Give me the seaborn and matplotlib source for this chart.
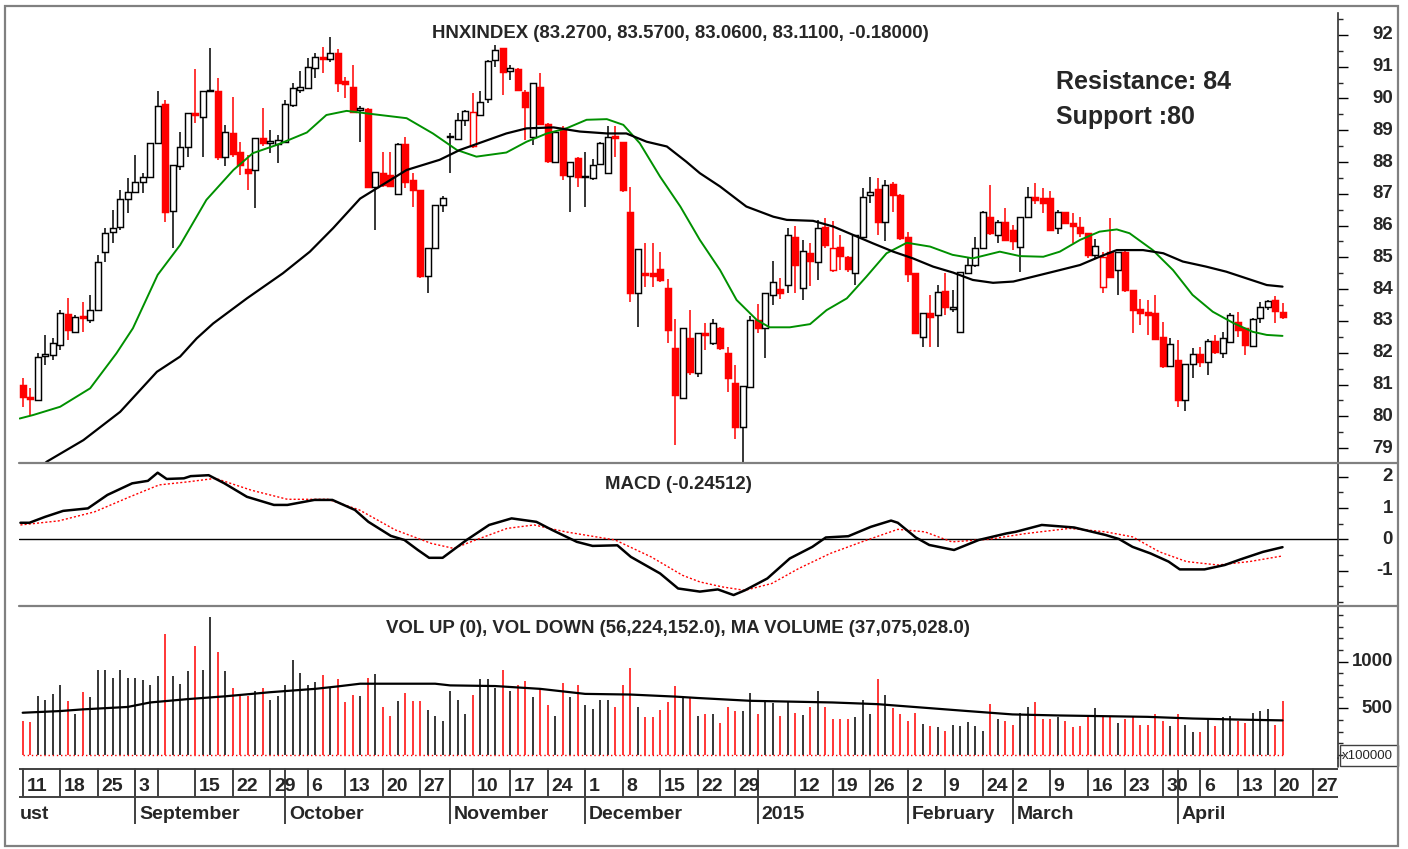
import numpy as np
import matplotlib
matplotlib.use("Agg")
import matplotlib.pyplot as plt
import seaborn as sns
from matplotlib.ticker import FixedLocator, MultipleLocator, NullFormatter
from matplotlib.transforms import blended_transform_factory
from matplotlib.patches import Rectangle
from matplotlib.lines import Line2D

# HNX index daily candles, 8 Aug 2014 .. 20 Apr 2015
opens = [80.98, 80.61, 80.51, 81.90, 81.93, 82.24, 83.22, 82.66, 83.15, 83.03,
         83.34, 85.18, 85.81, 85.97, 86.83, 87.07, 87.38, 87.54, 88.59, 89.83,
         86.47, 87.88, 88.46, 89.53, 89.43, 90.22, 90.25, 88.15, 88.90, 88.33,
         87.77, 87.75, 88.75, 88.59, 88.57, 88.64, 89.80, 90.27, 90.32, 90.95,
         91.30, 91.24, 91.42, 90.55, 90.35, 89.64, 89.66, 87.23, 87.67, 87.60,
         86.99, 88.57, 87.44, 87.12, 84.41, 85.28, 86.65, 88.78, 88.72, 89.33,
         88.49, 89.48, 89.98, 91.21, 91.58, 90.85, 90.92, 90.19, 88.80, 90.35,
         89.20, 88.01, 89.06, 87.56, 88.12, 87.54, 87.49, 87.94, 87.64, 88.82,
         88.64, 86.44, 83.87, 84.52, 84.50, 84.62, 84.03, 82.14, 80.56, 82.45,
         81.35, 82.61, 82.30, 82.79, 81.98, 81.06, 79.65, 80.93, 83.03, 82.77,
         83.82, 84.00, 84.13, 85.65, 84.03, 85.15, 84.87, 85.95, 84.60, 85.32,
         85.02, 84.50, 85.65, 86.96, 87.14, 86.12, 87.31, 86.96, 85.63, 84.50,
         82.50, 83.24, 83.19, 83.95, 83.38, 82.66, 84.52, 84.76, 85.28, 86.26,
         85.71, 86.12, 85.86, 85.34, 86.28, 86.91, 86.86, 86.86, 85.91, 86.44,
         86.09, 85.95, 85.78, 85.07, 84.08, 85.18, 84.60, 85.18, 83.97, 83.37,
         83.29, 83.24, 82.48, 81.58, 81.77, 80.51, 81.64, 81.96, 81.72, 82.38,
         82.00, 82.35, 82.98, 82.77, 82.21, 83.08, 83.43, 83.66, 83.27]
highs = [81.19, 80.88, 81.98, 82.56, 82.45, 83.34, 83.71, 83.19, 83.61, 83.82,
         85.08, 85.92, 86.49, 87.12, 87.49, 88.22, 87.65, 88.59, 90.22, 89.95,
         87.91, 88.96, 89.53, 90.92, 90.22, 91.58, 90.64, 89.17, 90.04, 88.64,
         88.22, 88.75, 89.69, 89.01, 88.85, 89.95, 90.48, 90.88, 91.27, 91.44,
         91.63, 91.95, 91.55, 90.69, 91.06, 89.75, 89.69, 87.70, 88.33, 88.33,
         88.59, 88.80, 87.65, 87.12, 85.28, 86.65, 86.93, 88.90, 89.53, 89.64,
         90.16, 90.22, 91.21, 91.69, 91.58, 91.06, 90.95, 90.27, 90.50, 90.79,
         89.24, 88.99, 89.12, 88.01, 88.17, 88.33, 88.09, 88.64, 89.14, 89.12,
         88.64, 87.23, 85.25, 85.44, 85.44, 85.18, 84.31, 83.05, 82.77, 83.34,
         82.61, 82.93, 83.05, 82.82, 82.19, 81.61, 80.95, 83.14, 83.53, 83.87,
         84.90, 84.34, 85.92, 85.99, 85.55, 85.46, 86.18, 86.23, 86.15, 85.71,
         85.04, 85.71, 87.17, 87.54, 87.49, 87.44, 87.38, 87.01, 85.81, 84.52,
         83.24, 83.82, 84.13, 84.50, 83.97, 84.55, 85.02, 85.65, 86.47, 87.28,
         86.18, 86.54, 86.02, 86.28, 87.23, 87.35, 87.17, 87.10, 86.49, 86.44,
         86.41, 86.28, 85.78, 85.57, 85.18, 86.23, 85.18, 85.23, 83.97, 83.68,
         83.66, 83.82, 82.98, 82.45, 82.40, 81.66, 82.14, 82.19, 82.42, 82.56,
         82.66, 83.24, 83.29, 82.77, 83.08, 83.61, 83.66, 83.79, 83.57]
lows = [80.30, 80.04, 80.51, 81.61, 81.77, 82.08, 82.40, 82.61, 82.66, 82.92,
        83.34, 84.87, 85.44, 85.86, 86.39, 87.02, 87.02, 87.49, 88.59, 86.12,
        85.28, 87.75, 88.17, 89.22, 88.17, 90.22, 88.07, 87.86, 88.17, 87.59,
        87.12, 86.54, 88.49, 88.28, 87.96, 88.59, 89.74, 90.17, 90.29, 90.64,
        90.79, 91.16, 90.19, 90.00, 89.59, 88.64, 87.17, 85.86, 87.23, 87.20,
        86.99, 87.17, 86.58, 84.34, 83.87, 85.28, 86.44, 87.65, 88.72, 89.14,
        88.43, 89.45, 89.85, 91.00, 90.11, 90.58, 90.25, 88.69, 88.54, 89.20,
        87.96, 87.98, 87.44, 86.44, 87.23, 86.60, 87.44, 87.91, 87.64, 88.17,
        87.07, 83.61, 82.82, 84.08, 84.08, 84.24, 82.30, 79.10, 80.56, 81.30,
        81.25, 82.09, 82.24, 82.10, 80.77, 79.27, 78.52, 80.93, 82.63, 81.82,
        83.50, 83.68, 83.87, 83.87, 83.66, 84.10, 84.29, 85.28, 84.55, 84.60,
        84.55, 84.13, 85.65, 86.70, 85.71, 85.50, 86.44, 85.55, 84.24, 82.58,
        82.19, 82.19, 82.19, 83.19, 83.29, 82.61, 84.50, 84.71, 85.28, 85.71,
        85.44, 85.55, 85.23, 84.55, 86.28, 86.68, 86.39, 85.86, 85.74, 86.07,
        85.44, 85.63, 84.97, 84.97, 83.89, 84.39, 83.81, 83.92, 82.63, 82.87,
        82.56, 82.40, 81.51, 81.58, 80.30, 80.17, 81.19, 81.56, 81.30, 81.96,
        81.82, 82.35, 82.51, 81.93, 82.19, 82.93, 83.34, 82.93, 83.06]
closes = [80.61, 80.54, 81.87, 81.96, 82.30, 83.24, 82.72, 83.13, 83.08, 83.34,
          84.87, 85.76, 85.92, 86.83, 87.07, 87.38, 87.54, 88.59, 89.77, 86.44,
          87.91, 88.46, 89.53, 89.48, 90.22, 90.27, 88.15, 88.93, 88.25, 87.91,
          87.67, 88.75, 88.59, 88.66, 88.68, 89.83, 90.32, 90.35, 91.00, 91.30,
          91.24, 91.42, 90.50, 90.45, 89.59, 89.69, 87.23, 87.70, 87.28, 87.25,
          88.57, 87.38, 87.12, 84.41, 85.28, 86.65, 86.86, 88.82, 89.33, 89.61,
          89.56, 89.90, 91.18, 91.53, 90.82, 90.95, 90.27, 89.74, 90.50, 89.20,
          88.04, 88.93, 87.59, 88.01, 87.52, 87.56, 87.91, 88.61, 88.80, 88.75,
          87.12, 83.89, 85.25, 84.45, 84.42, 84.29, 82.72, 80.67, 82.77, 81.40,
          82.61, 82.56, 82.93, 82.14, 81.19, 79.65, 80.95, 83.03, 82.77, 83.87,
          84.21, 83.89, 85.71, 84.76, 85.21, 84.90, 85.92, 85.39, 85.28, 85.04,
          84.62, 85.71, 86.89, 87.07, 86.12, 87.28, 86.96, 85.60, 84.48, 82.61,
          83.24, 83.13, 83.92, 83.43, 83.45, 84.55, 84.76, 85.28, 86.44, 85.76,
          86.12, 85.55, 85.52, 86.28, 86.89, 86.81, 86.70, 85.86, 86.44, 86.07,
          85.99, 85.76, 85.07, 85.36, 85.02, 84.39, 85.18, 83.97, 83.34, 83.24,
          83.19, 82.42, 81.58, 82.29, 80.51, 81.66, 81.96, 81.72, 82.38, 82.03,
          82.45, 83.19, 82.72, 82.24, 83.05, 83.45, 83.64, 83.32, 83.11]
# volume, x100000
volumes = [369, 355, 637, 593, 655, 753, 581, 435, 673, 618,
           910, 910, 830, 910, 830, 830, 808, 746, 848, 1293,
           848, 757, 899, 1165, 910, 1476, 1103, 899, 720, 637,
           637, 691, 717, 593, 629, 746, 1019, 874, 746, 782,
           855, 728, 811, 563, 644, 629, 830, 866, 515, 417,
           581, 662, 581, 581, 479, 417, 369, 684, 593, 435,
           648, 811, 811, 720, 910, 691, 746, 793, 618, 709,
           534, 417, 771, 618, 746, 537, 490, 593, 593, 515,
           746, 928, 519, 406, 406, 483, 563, 739, 611, 611,
           417, 435, 435, 344, 515, 471, 471, 662, 442, 563,
           552, 417, 563, 453, 428, 515, 691, 515, 391, 391,
           391, 406, 589, 442, 811, 648, 501, 442, 369, 453,
           337, 315, 297, 253, 326, 308, 355, 308, 253, 545,
           391, 369, 326, 453, 515, 563, 391, 391, 406, 369,
           297, 308, 417, 501, 417, 406, 344, 391, 417, 326,
           326, 442, 369, 308, 442, 326, 242, 242, 398, 308,
           406, 417, 369, 344, 453, 475, 497, 326, 574]

# moving averages (position = candle number)
ma_short_x = [-0.4, 1.4, 5, 9, 12.5, 14.7, 18, 21, 24.5, 28.1, 30.7, 33.9, 37.9, 40.5,
              43.2, 45.9, 51.2, 54.7, 57.9, 60.5, 64.5, 67.2, 69.9, 72.5, 75.2, 77.9,
              80.1, 82.3, 85, 87.7, 90.3, 93, 95.2, 97.9, 99.6, 102.3, 105, 107.2, 109.9,
              112.5, 115.2, 117.9, 121, 124, 126.7, 130.3, 133, 136.1, 138.3, 141, 143.6,
              145.9, 147.6, 150.7, 153.4, 156, 158.7, 161.4, 164, 165.9, 168]
ma_short_y = [79.93, 80.04, 80.30, 80.88, 81.98, 82.77, 84.45, 85.39, 86.81, 87.75, 88.28,
              88.54, 88.93, 89.48, 89.61, 89.53, 89.38, 88.90, 88.38, 88.17, 88.30, 88.64,
              88.90, 89.06, 89.33, 89.35, 89.17, 88.59, 87.54, 86.60, 85.55, 84.60, 83.66,
              83.03, 82.80, 82.80, 82.90, 83.34, 83.71, 84.39, 85.13, 85.46, 85.34, 85.08,
              84.97, 85.18, 85.04, 85.02, 85.18, 85.55, 85.81, 85.88, 85.76, 85.23, 84.60,
              83.82, 83.29, 82.94, 82.66, 82.56, 82.53]
ma_long_x = [2, 3.2, 8.1, 13, 17.9, 21, 23.2, 25.4, 29.9, 34.7, 38.3, 41.4, 45, 47.2, 51.2,
             55.6, 58.3, 61.4, 64.5, 67.2, 70.8, 74.3, 77.9, 80.5, 83.2, 85.9, 88.5, 90.3,
             93, 96.5, 100.1, 101.9, 105.4, 108.1, 110.7, 113.4, 116.1, 118.7, 121.4, 124.1,
             126.7, 129.4, 132.1, 134.7, 138.3, 141, 143.6, 145.9, 149.4, 152.1, 154.7,
             157.8, 160.5, 163.2, 165.9, 168]
ma_long_y = [78.30, 78.57, 79.25, 80.14, 81.40, 81.88, 82.45, 82.92, 83.71, 84.50, 85.18,
             85.92, 86.85, 87.17, 87.75, 88.07, 88.38, 88.64, 88.90, 89.06, 89.09, 88.96,
             88.90, 88.90, 88.64, 88.49, 88.01, 87.65, 87.23, 86.60, 86.28, 86.18, 86.15,
             85.97, 85.71, 85.44, 85.18, 84.97, 84.71, 84.52, 84.29, 84.20, 84.24, 84.39,
             84.60, 84.76, 85.02, 85.23, 85.23, 85.13, 84.87, 84.71, 84.55, 84.34, 84.13,
             84.08]

macd_x = [-0.3, 0.9, 3, 5.4, 8.7, 11.3, 14.6, 16.7, 18, 19.2, 21.5, 22.4, 24.8, 26.9, 29.9,
          33.5, 35.3, 38.9, 41.3, 44.3, 46.1, 49.1, 50.9, 52.7, 54.2, 56, 59.2, 62.2, 65.2,
          68.5, 70.6, 73.9, 76, 79.3, 81.1, 85, 87.4, 90.3, 92.7, 94.8, 96.3, 99.3, 102.3,
          105.3, 107.1, 110.1, 113.1, 115.8, 116.7, 119.1, 120.9, 124.2, 127.5, 131.2, 132.4,
          135.9, 140.2, 144.4, 146.2, 148, 150.4, 152.8, 154.3, 157.6, 160.3, 162.4, 165.4, 168]
macd_y = [0.53, 0.53, 0.72, 0.91, 0.99, 1.42, 1.79, 1.87, 2.13, 1.93, 1.95, 2.02, 2.05, 1.79,
          1.36, 1.10, 1.10, 1.26, 1.26, 0.94, 0.56, 0.11, -0.02, -0.34, -0.59, -0.59, -0.02,
          0.46, 0.67, 0.56, 0.30, -0.08, -0.21, -0.19, -0.56, -1.09, -1.57, -1.67, -1.60,
          -1.78, -1.63, -1.25, -0.61, -0.24, 0.06, 0.10, 0.40, 0.60, 0.53, 0.06, -0.18, -0.34,
          -0.02, 0.19, 0.24, 0.46, 0.38, 0.14, 0.01, -0.24, -0.45, -0.71, -0.96, -0.96, -0.82,
          -0.64, -0.40, -0.25]
signal_x = [-0.3, 4.8, 9.6, 14.3, 18.2, 22.1, 25.7, 30.5, 35.3, 40.7, 44.9, 49.7, 54.5, 57.5,
            60.4, 64.6, 68.2, 72.4, 79, 83.8, 88, 90.3, 93.3, 96.3, 99.9, 103.5, 107.7, 111.9,
            116.7, 120.3, 123.9, 128.8, 133.6, 139.6, 144.4, 148, 151.6, 155.2, 159.4, 163.6, 168]
signal_y = [0.46, 0.59, 0.88, 1.36, 1.74, 1.84, 1.95, 1.57, 1.28, 1.28, 0.94, 0.30, -0.13, -0.29,
            -0.02, 0.35, 0.46, 0.24, -0.02, -0.56, -1.15, -1.36, -1.52, -1.63, -1.41, -0.93,
            -0.45, -0.08, 0.32, 0.24, -0.08, 0.00, 0.18, 0.35, 0.24, 0.08, -0.40, -0.71, -0.82,
            -0.71, -0.53]

vol_ma_x = [0, 5, 8, 14, 17, 22, 27, 33, 39, 42, 45, 55, 57, 63, 69, 75, 81, 87, 90, 97,
            108, 114, 120, 126, 132, 138, 150, 156, 162, 168]
vol_ma_y = [453, 471, 489, 515, 563, 599, 629, 673, 709, 735, 764, 764, 746, 739, 709, 655,
            648, 626, 611, 581, 563, 545, 508, 471, 435, 424, 409, 391, 380, 371]

# date axis
week_labels = ["11", "18", "25", "3", "", "15", "22", "29", "6", "13", "20", "27", "", "10",
               "17", "24", "1", "8", "15", "22", "29", "", "12", "19", "26", "2", "9", "24",
               "2", "9", "16", "23", "30", "6", "13", "20", "27"]
week_pos = [0, 5, 10, 15, 18, 23, 28, 33, 38, 43, 48, 53, 57, 60, 65, 70, 75, 80, 85, 90, 95,
            98, 103, 108, 113, 118, 123, 128, 132, 137, 142, 147, 152, 157, 162, 167, 172]
month_labels = ["September", "October", "November", "December", "2015", "February", "March", "April"]
month_pos = [15, 35, 57, 75, 98, 118, 132, 154]

# right-hand scales
price_ticks = list(range(79, 93))
macd_ticks = [-1, 0, 1, 2]
vol_ticks = [500, 1000]

RED = "#ff0000"
GREY = "#808080"
W, H = 1408, 849
XLIM = (-0.49, 175.4)
FS = 13.4


def px_box(left, top, right, bottom):
    return [left / W, 1 - bottom / H, (right - left) / W, (bottom - top) / H]


sns.set_style("white")
plt.rcParams["font.family"] = ["Liberation Sans", "DejaVu Sans"]
plt.rcParams["font.weight"] = "bold"
plt.rcParams["axes.unicode_minus"] = False

fig = plt.figure(figsize=(W / 100, H / 100), dpi=100)

idx = np.arange(len(closes))
o, h, l, c = map(np.array, (opens, highs, lows, closes))
prev = np.r_[o[0], c[:-1]]
col = np.where(c < prev, RED, "black").tolist()
face = [cc if fill else "white" for cc, fill in zip(col, c < o)]

ax1 = fig.add_axes(px_box(19, 13, 1338, 463))
ax2 = fig.add_axes(px_box(19, 463, 1338, 606))
ax3 = fig.add_axes(px_box(19, 607, 1338, 758))
ax4 = fig.add_axes(px_box(19, 768, 1338, 825))

# price candles + moving averages
ax1.vlines(idx, l, h, colors=col, lw=1.1, zorder=2)
ax1.bar(idx, np.maximum(np.abs(c - o), 0.035), bottom=np.minimum(o, c), width=0.8,
        color=face, edgecolor=col, linewidth=1.05, zorder=3)
sns.lineplot(x=ma_short_x, y=ma_short_y, ax=ax1, color="#009000", lw=1.4, estimator=None, zorder=4)
sns.lineplot(x=ma_long_x, y=ma_long_y, ax=ax1, color="black", lw=1.6, estimator=None, zorder=4)
ax1.set_ylim(78.53, 92.69)

# MACD
ax2.axhline(0, color="black", lw=1.0)
sns.lineplot(x=signal_x, y=signal_y, ax=ax2, color=RED, lw=1.0, linestyle=(0, (1.5, 1.5)), estimator=None)
sns.lineplot(x=macd_x, y=macd_y, ax=ax2, color="black", lw=1.8, estimator=None)
ax2.set_ylim(-2.13, 2.44)

# volume
ax3.vlines(idx, 0, volumes, colors=col, lw=1.1)
ax3.hlines(0, idx[0], idx[-1], colors=RED, linestyles=(0, (1, 2)), lw=1.0)
sns.lineplot(x=vol_ma_x, y=vol_ma_y, ax=ax3, color="black", lw=1.6, estimator=None)
ax3.set_ylim(-32, 1586)

for ax, ticks, minor in ((ax1, price_ticks, 0.5), (ax2, macd_ticks, 0.5), (ax3, vol_ticks, 125)):
    ax.set_xlim(*XLIM)
    ax.set_xticks([])
    ax.set_xlabel("")
    ax.set_ylabel("")
    for side in ("left", "top", "bottom"):
        ax.spines[side].set_visible(False)
    ax.spines["right"].set_color("#303030")
    ax.spines["right"].set_linewidth(1.2)
    ax.yaxis.tick_right()
    ax.yaxis.set_major_locator(FixedLocator(ticks))
    ax.yaxis.set_minor_locator(MultipleLocator(minor))
    ax.yaxis.set_major_formatter(NullFormatter())
    ax.tick_params(axis="y", which="major", direction="out", length=7.2, width=1.0,
                   labelright=False, colors="black")
    ax.tick_params(axis="y", which="minor", direction="out", length=3.6, width=1.0)
    # labels right-aligned near the frame, x in figure units, y in data units
    trans = blended_transform_factory(fig.transFigure, ax.transData)
    for t in ticks:
        fig.text(1393 / W, t, f"{t}", transform=trans, ha="right", va="center", fontsize=FS)

# date strip
ax4.set_xlim(*XLIM)
ax4.set_ylim(825, 768)
ax4.axis("off")
ax4.axhline(768.5, color="#404040", lw=1.4)
ax4.axhline(797, color="#404040", lw=1.4)
ax4.vlines(week_pos, 768, 797, colors="#404040", lw=1.4)
ax4.vlines(month_pos, 768, 824, colors="#404040", lw=1.4)
for lbl, pos in zip(week_labels, week_pos):
    ax4.text(pos + 0.5, 791, lbl, fontsize=FS + 0.6, ha="left", va="baseline")
for lbl, pos in zip(month_labels, month_pos):
    ax4.text(pos + 0.5, 819, lbl, fontsize=FS + 0.6, ha="left", va="baseline")
# only the tail of "August" is visible at the left edge
ax4.text(-0.45, 819, "ust", fontsize=FS + 0.6, ha="left", va="baseline")

# titles and notes
fig.text(680 / W, 1 - 38 / H, "HNXINDEX (83.2700, 83.5700, 83.0600, 83.1100, -0.18000)",
         fontsize=FS, ha="center", va="baseline")
fig.text(678 / W, 1 - 489 / H, "MACD (-0.24512)", fontsize=FS, ha="center", va="baseline")
fig.text(678 / W, 1 - 633 / H, "VOL UP (0), VOL DOWN (56,224,152.0), MA VOLUME (37,075,028.0)",
         fontsize=FS, ha="center", va="baseline")
fig.text(1056 / W, 1 - 89 / H, "Resistance: 84", fontsize=18, ha="left", va="baseline")
fig.text(1056 / W, 1 - 124 / H, "Support :80", fontsize=18, ha="left", va="baseline")

# frame and panel separators
for y in (463, 606):
    fig.add_artist(Line2D([19 / W, 1398 / W], [1 - y / H] * 2, color=GREY, lw=1.6))
fig.add_artist(Line2D([1338 / W] * 2, [1 - 758 / H, 1 - 767 / H], color="#303030", lw=1.2))
fig.add_artist(Rectangle((1340 / W, 1 - 766 / H), 58 / W, 21 / H, fill=False,
                         edgecolor="#404040", lw=1.0))
fig.text(1342 / W, 1 - 756 / H, "x100000", fontsize=9.5, fontweight="normal",
         ha="left", va="center")
fig.add_artist(Rectangle((5 / W, 1 - 846 / H), 1393 / W, 840 / H, fill=False,
                         edgecolor=GREY, lw=1.6))

fig.savefig("out.png", dpi=100)
